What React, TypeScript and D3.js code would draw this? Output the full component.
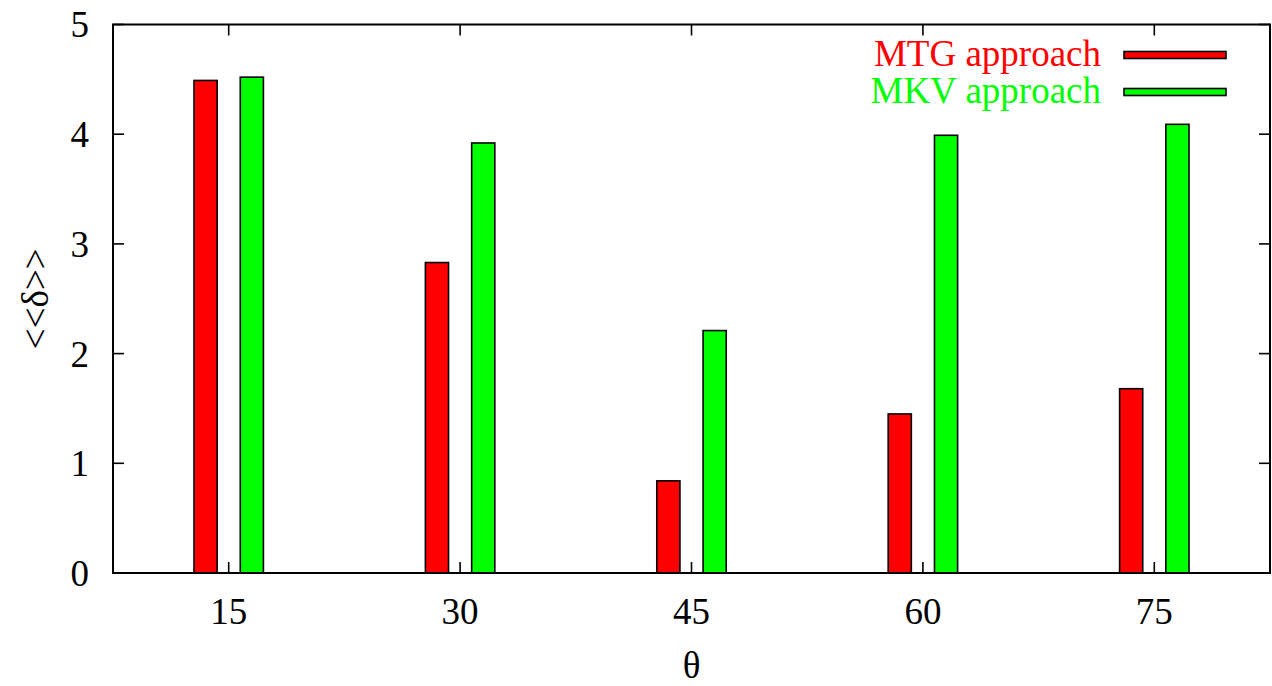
import React from "react";
import * as d3 from "d3";

const thetas = [15, 30, 45, 60, 75];
const mtgValues = [4.49, 2.83, 0.84, 1.45, 1.68];
const mkvValues = [4.52, 3.92, 2.21, 3.99, 4.09];
const yTicks = [0, 1, 2, 3, 4, 5];

const W = 1272;
const H = 686;
const left = 113;
const right = 1270;
const top = 24.5;
const bottom = 573;
const font = "'Liberation Serif', 'Times New Roman', serif";

const App = () => {
  const x = d3.scaleLinear().domain([7.5, 82.5]).range([left, right]);
  const y = d3.scaleLinear().domain([0, 5]).range([bottom, top]);
  const bw = x(1.5) - x(0);

  const series = [
    { name: "MTG approach", color: "#ff0000", values: mtgValues, off: -2.25 },
    { name: "MKV approach", color: "#00ff00", values: mkvValues, off: 0.75 },
  ];

  return (
    <svg
      width={W}
      height={H}
      style={{ position: "absolute", left: 0, top: 0, background: "#fff" }}
      fontFamily={font}
    >
      {series.map((s) =>
        s.values.map((v, i) => (
          <rect
            key={s.name + i}
            x={x(thetas[i] + s.off)}
            y={y(v)}
            width={bw}
            height={y(0) - y(v)}
            fill={s.color}
            stroke="#000"
            strokeWidth={1.6}
          />
        ))
      )}

      {yTicks.map((t) => (
        <g key={"y" + t}>
          <line x1={left} x2={left + 11} y1={y(t)} y2={y(t)} stroke="#000" strokeWidth={1.6} />
          <line x1={right - 11} x2={right} y1={y(t)} y2={y(t)} stroke="#000" strokeWidth={1.6} />
          <text x={89} y={y(t)} dy="0.35em" textAnchor="end" fontSize={37}>
            {t}
          </text>
        </g>
      ))}

      {thetas.map((t) => (
        <g key={"x" + t}>
          <line x1={x(t)} x2={x(t)} y1={bottom} y2={bottom - 11} stroke="#000" strokeWidth={1.6} />
          <line x1={x(t)} x2={x(t)} y1={top} y2={top + 11} stroke="#000" strokeWidth={1.6} />
          <text x={x(t)} y={624} textAnchor="middle" fontSize={37}>
            {t}
          </text>
        </g>
      ))}

      <rect
        x={left}
        y={top}
        width={right - left}
        height={bottom - top}
        fill="none"
        stroke="#000"
        strokeWidth={2}
      />

      <text x={x(45)} y={678} textAnchor="middle" fontSize={37}>
        θ
      </text>
      <text
        transform={`translate(48,${(top + bottom) / 2}) rotate(-90)`}
        textAnchor="middle"
        fontSize={37}
      >
        {"<<δ>>"}
      </text>

      {series.map((s, i) => (
        <g key={"leg" + i}>
          <text x={1101} y={66 + i * 37} textAnchor="end" fontSize={37} fill={s.color}>
            {s.name}
          </text>
          <rect
            x={1124}
            y={51.5 + i * 37}
            width={102}
            height={7}
            fill={s.color}
            stroke="#000"
            strokeWidth={1.6}
          />
        </g>
      ))}
    </svg>
  );
};

export default App;
